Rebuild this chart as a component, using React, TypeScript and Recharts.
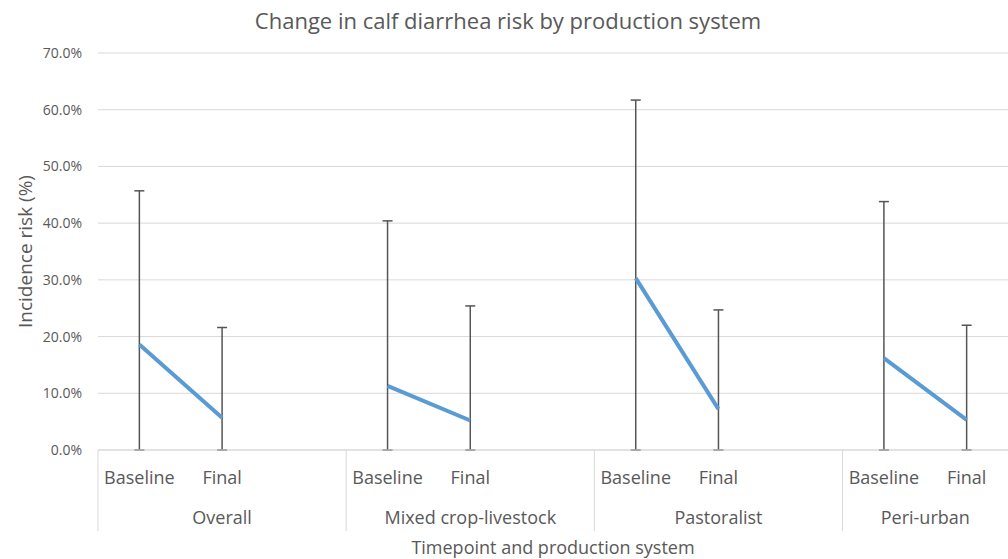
import React from 'react';
import { LineChart, Line, XAxis, YAxis, CartesianGrid, ErrorBar } from 'recharts';

// slot per category, with an empty slot between production systems
const timepoints = ['Baseline', 'Final', '', 'Baseline', 'Final', '', 'Baseline', 'Final', '', 'Baseline', 'Final'];
const groups = ['Overall', 'Overall', 'Overall', 'Mixed crop-livestock', 'Mixed crop-livestock', 'Mixed crop-livestock',
  'Pastoralist', 'Pastoralist', 'Pastoralist', 'Peri-urban', 'Peri-urban'];
const risk = [18.6, 5.7, null, 11.3, 5.2, null, 30.3, 7.2, null, 16.2, 5.3];
const upperCI = [45.7, 21.6, null, 40.4, 25.4, null, 61.7, 24.7, null, 43.8, 22.0];
const yTicks = [0, 10, 20, 30, 40, 50, 60, 70];

const data = timepoints.map((t, i) => ({
  slot: `${groups[i]}-${i}`,
  timepoint: t,
  group: groups[i],
  risk: risk[i],
  err: risk[i] == null ? null : [risk[i], (upperCI[i] as number) - (risk[i] as number)],
}));

const TEXT = '#595959';
const GRID = '#d9d9d9';
const FONT = '"Open Sans", sans-serif';
const W = 1008;
const H = 559;
const LEFT = 98;
const PLOT_W = W - LEFT;
const STEP = PLOT_W / data.length;

const CategoryTick = (props: any) => {
  const { x, y, index } = props;
  const d = data[index];
  const first = index === 0 || data[index - 1].group !== d.group;
  let groupSlots = 0;
  if (first) {
    for (let j = index; j < data.length && data[j].group === d.group; j++) groupSlots++;
  }
  const left = x - STEP / 2;
  return (
    <g>
      {d.timepoint && (
        <text x={x} y={y + 34} textAnchor="middle" fill={TEXT} fontSize={18} fontFamily={FONT}>
          {d.timepoint}
        </text>
      )}
      {first && (
        <>
          <line x1={left} x2={left} y1={y} y2={y + 81} stroke={GRID} strokeWidth={1} />
          <text x={left + (groupSlots * STEP) / 2} y={y + 74} textAnchor="middle" fill={TEXT} fontSize={18} fontFamily={FONT}>
            {d.group}
          </text>
        </>
      )}
    </g>
  );
};

export default function App() {
  return (
    <div style={{ position: 'absolute', left: 0, top: 0, width: W, height: H, background: '#fff' }}>
      <svg width={W} height={40} style={{ position: 'absolute', left: 0, top: 0 }}>
        <text x={508} y={29} textAnchor="middle" fill={TEXT} fontSize={22} fontFamily={FONT}>
          Change in calf diarrhea risk by production system
        </text>
      </svg>
      <LineChart width={W} height={H} data={data} margin={{ top: 53, right: 0, bottom: 0, left: 0 }}>
        <CartesianGrid vertical={false} stroke={GRID} strokeWidth={1} />
        <XAxis
          dataKey="slot"
          type="category"
          height={109}
          padding={{ left: STEP / 2, right: STEP / 2 }}
          axisLine={{ stroke: GRID }}
          tickLine={false}
          tickSize={0}
          tickMargin={0}
          interval={0}
          tick={<CategoryTick />}
          label={{ value: 'Timepoint and production system', position: 'insideBottom', offset: 5, fill: TEXT, fontSize: 18, fontFamily: FONT }}
        />
        <YAxis
          width={LEFT}
          domain={[0, 70]}
          ticks={yTicks}
          axisLine={false}
          tickLine={false}
          tickSize={8}
          tickMargin={8}
          tick={{ fill: TEXT, fontSize: 14, fontFamily: FONT }}
          tickFormatter={(v: number) => `${v.toFixed(1)}%`}
          label={{ value: 'Incidence risk (%)', angle: -90, position: 'center', dx: -24, dy: 0, fill: TEXT, fontSize: 19, fontFamily: FONT }}
        />
        <Line
          dataKey="risk"
          stroke="#5B9BD5"
          strokeWidth={4}
          dot={false}
          activeDot={false}
          isAnimationActive={false}
        >
          <ErrorBar dataKey="err" direction="y" width={5} stroke="#555555" strokeWidth={1.5} isAnimationActive={false} />
        </Line>
      </LineChart>
    </div>
  );
}
